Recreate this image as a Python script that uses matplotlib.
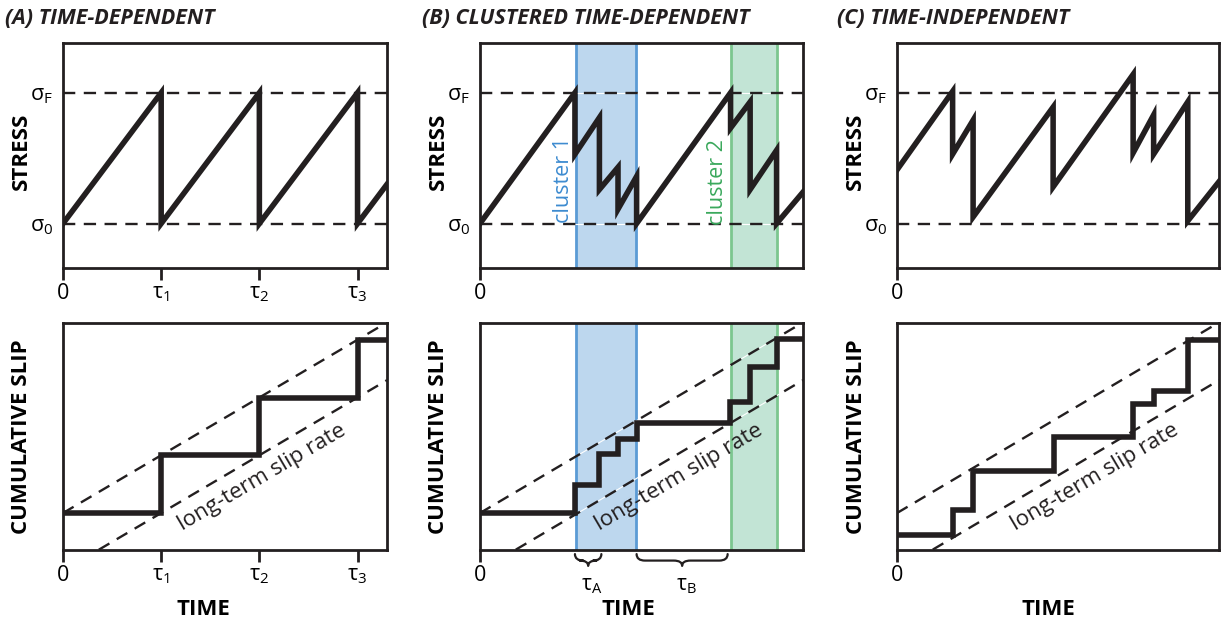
import matplotlib
matplotlib.use('Agg')
import matplotlib.pyplot as plt
from matplotlib.path import Path
from matplotlib.patches import PathPatch

plt.rcParams['font.family'] = ['Open Sans', 'DejaVu Sans']
plt.rcParams['mathtext.default'] = 'regular'

# ---- data (time in units of tau, stress: sigma_0 = 0, sigma_F = 1) ----
T_MAX = 3.3
STRESS_LIM = (-0.34, 1.38)
SLIP_LIM = (-0.64, 3.29)

# (A) time-dependent
a_stress_t = [0, 1, 1, 2, 2, 3, 3, 3.3]
a_stress = [0, 1, 0, 1, 0, 1, 0, 0.3]
a_events = [1, 2, 3]
a_slip = [1, 2, 3]
a_slip0 = 0
a_ticks = [0, 1, 2, 3]
a_ticklabels = ['0', r'τ$_{1}$', r'τ$_{2}$', r'τ$_{3}$']

# (B) clustered time-dependent
b_stress_t = [0, 0.97, 0.97, 1.22, 1.22, 1.41, 1.41, 1.60, 1.60,
              2.56, 2.56, 2.76, 2.76, 3.03, 3.03, 3.3]
b_stress = [0, 1.0, 0.53, 0.81, 0.26, 0.43, 0.11, 0.36, 0.0,
            1.0, 0.73, 0.93, 0.26, 0.56, 0.0, 0.24]
b_events = [0.97, 1.22, 1.41, 1.60, 2.55, 2.76, 3.03]
b_slip = [0.49, 1.02, 1.28, 1.56, 1.92, 2.53, 3.02]
b_slip0 = 0
b_clusters = [(0.98, 1.59), (2.56, 3.03)]
b_brace_spans = [(0.97, 1.24), (1.60, 2.53)]
b_brace_labels = [r'τ$_{A}$', r'τ$_{B}$']

# (C) time-independent
c_stress_t = [0, 0.57, 0.57, 0.78, 0.78, 1.60, 1.60, 2.42, 2.42,
              2.63, 2.63, 2.98, 2.98, 3.3]
c_stress = [0.41, 1.01, 0.53, 0.79, 0.05, 0.89, 0.28, 1.14, 0.54,
            0.83, 0.53, 0.93, 0.02, 0.32]
c_events = [0.57, 0.78, 1.61, 2.42, 2.63, 2.98]
c_slip = [0.05, 0.73, 1.32, 1.89, 2.11, 3.0]
c_slip0 = -0.38

# long-term slip rate envelope: slip = t + offset
rate_offsets = [0, -1]

titles = ['(A) TIME-DEPENDENT', '(B) CLUSTERED TIME-DEPENDENT', '(C) TIME-INDEPENDENT']

INK = '#231f20'
BLUE_FILL, BLUE_EDGE, BLUE_TEXT = '#bdd7ee', '#5b9bd5', '#3d8bd0'
GREEN_FILL, GREEN_EDGE, GREEN_TEXT = '#c2e4d5', '#7cc68f', '#3aa85c'

W, H = 1225, 630
fig = plt.figure(figsize=(W / 100, H / 100), dpi=100)


def px_axes(left, top, width, height):
    return fig.add_axes([left / W, 1 - (top + height) / H, width / W, height / H])


def style_axes(ax, ylim, ticks, ticklabels):
    ax.set_xlim(0, T_MAX)
    ax.set_ylim(*ylim)
    for sp in ax.spines.values():
        sp.set_linewidth(2)
        sp.set_color(INK)
        sp.set_zorder(6)
    ax.set_xticks(ticks, ticklabels)
    ax.tick_params(axis='x', direction='out', length=8.5, width=2, color=INK,
                   labelsize=15.5, pad=2)
    ax.tick_params(axis='y', length=0, labelsize=15.5, pad=7)


def dashed(ax, x, y):
    ax.plot(x, y, color='white', lw=0.8, zorder=2)
    ax.plot(x, y, color=INK, lw=1.7, linestyle=(0, (5.2, 3.6)), zorder=3)


def draw_brace(ax, x0, x1, label):
    a, b = x0 / T_MAX, x1 / T_MAX
    m = (a + b) / 2
    top, h, r = -0.018, 0.052, 0.026
    mid = top - h * 0.55
    verts = [(a, top), (a, mid), (a + r, mid), (m - r, mid), (m, mid), (m, top - h),
             (m, mid), (m + r, mid), (b - r, mid), (b, mid), (b, top)]
    codes = [Path.MOVETO, Path.CURVE3, Path.CURVE3, Path.LINETO, Path.CURVE3, Path.CURVE3,
             Path.CURVE3, Path.CURVE3, Path.LINETO, Path.CURVE3, Path.CURVE3]
    ax.add_patch(PathPatch(Path(verts, codes), fc='none', ec=INK, lw=1.6,
                           capstyle='round', joinstyle='round',
                           transform=ax.transAxes, clip_on=False))
    ax.text(m + 0.012, -0.155, label, transform=ax.transAxes, ha='center', va='center',
            fontsize=15)


lefts = [63, 480, 897]
widths = [324, 323, 322]
stress_data = [(a_stress_t, a_stress), (b_stress_t, b_stress), (c_stress_t, c_stress)]
slip_data = [(a_events, a_slip, a_slip0), (b_events, b_slip, b_slip0), (c_events, c_slip, c_slip0)]
time_label_x = [0.432, 0.461, 0.469]
title_x = [5, 422, 837]

for i in range(3):
    ax_top = px_axes(lefts[i], 43, widths[i], 225)
    ax_bot = px_axes(lefts[i], 323, widths[i], 227)
    ticks = a_ticks if i == 0 else [0]
    labels = a_ticklabels if i == 0 else ['0']

    # stress panel
    style_axes(ax_top, STRESS_LIM, ticks, labels)
    ax_top.set_yticks([0, 1], [r'σ$_{0}$', r'σ$_{F}$'])
    for lvl in [0, 1]:
        dashed(ax_top, [0, T_MAX], [lvl, lvl])
    t, s = stress_data[i]
    ax_top.plot(t, s, color=INK, lw=4, solid_joinstyle='miter', zorder=4)
    ax_top.set_ylabel('STRESS', fontsize=16, fontweight='bold')
    ax_top.yaxis.label.set_va('center')
    ax_top.yaxis.set_label_coords(-42 / widths[i], 0.52)

    # cumulative slip panel
    style_axes(ax_bot, SLIP_LIM, ticks, labels)
    ax_bot.set_yticks([])
    for off in rate_offsets:
        dashed(ax_bot, [0, T_MAX], [off, T_MAX + off])
    ev, sl, s0 = slip_data[i]
    ax_bot.step([0] + ev + [T_MAX], [s0] + sl + [sl[-1]], where='post',
                color=INK, lw=4, solid_joinstyle='miter', zorder=4)
    ax_bot.text(2.03, 0.62, 'long-term slip rate', rotation=45, rotation_mode='anchor',
                transform_rotates_text=True, ha='center', va='center', fontsize=16,
                color=INK, zorder=5)
    ax_bot.set_ylabel('CUMULATIVE SLIP', fontsize=16, fontweight='bold')
    ax_bot.yaxis.label.set_va('center')
    ax_bot.yaxis.set_label_coords(-41 / widths[i], 0.5)
    ax_bot.set_xlabel('TIME', fontsize=16, fontweight='bold')
    ax_bot.xaxis.label.set_va('center')
    ax_bot.xaxis.set_label_coords(time_label_x[i], -0.26)

    fig.text(title_x[i] / W, 1 - 19 / H, titles[i], fontsize=15.5, fontweight='bold',
             fontstyle='italic', ha='left', va='center', color=INK)

    if i == 1:
        fills = [(BLUE_FILL, BLUE_EDGE), (GREEN_FILL, GREEN_EDGE)]
        for ax in (ax_top, ax_bot):
            for (x0, x1), (fc, ec) in zip(b_clusters, fills):
                ax.axvspan(x0, x1, facecolor=fc, edgecolor='none', zorder=1)
                ax.axvline(x0, color=ec, lw=2, zorder=1.5)
                ax.axvline(x1, color=ec, lw=2, zorder=1.5)
        ax_top.text(0.85, 0.33, 'cluster 1', rotation=90, ha='center', va='center',
                    fontsize=15.5, color=BLUE_TEXT, zorder=5)
        ax_top.text(2.43, 0.32, 'cluster 2', rotation=90, ha='center', va='center',
                    fontsize=15.5, color=GREEN_TEXT, zorder=5)
        for (x0, x1), lab in zip(b_brace_spans, b_brace_labels):
            draw_brace(ax_bot, x0, x1, lab)

fig.savefig('out.png', dpi=100, facecolor='white')
